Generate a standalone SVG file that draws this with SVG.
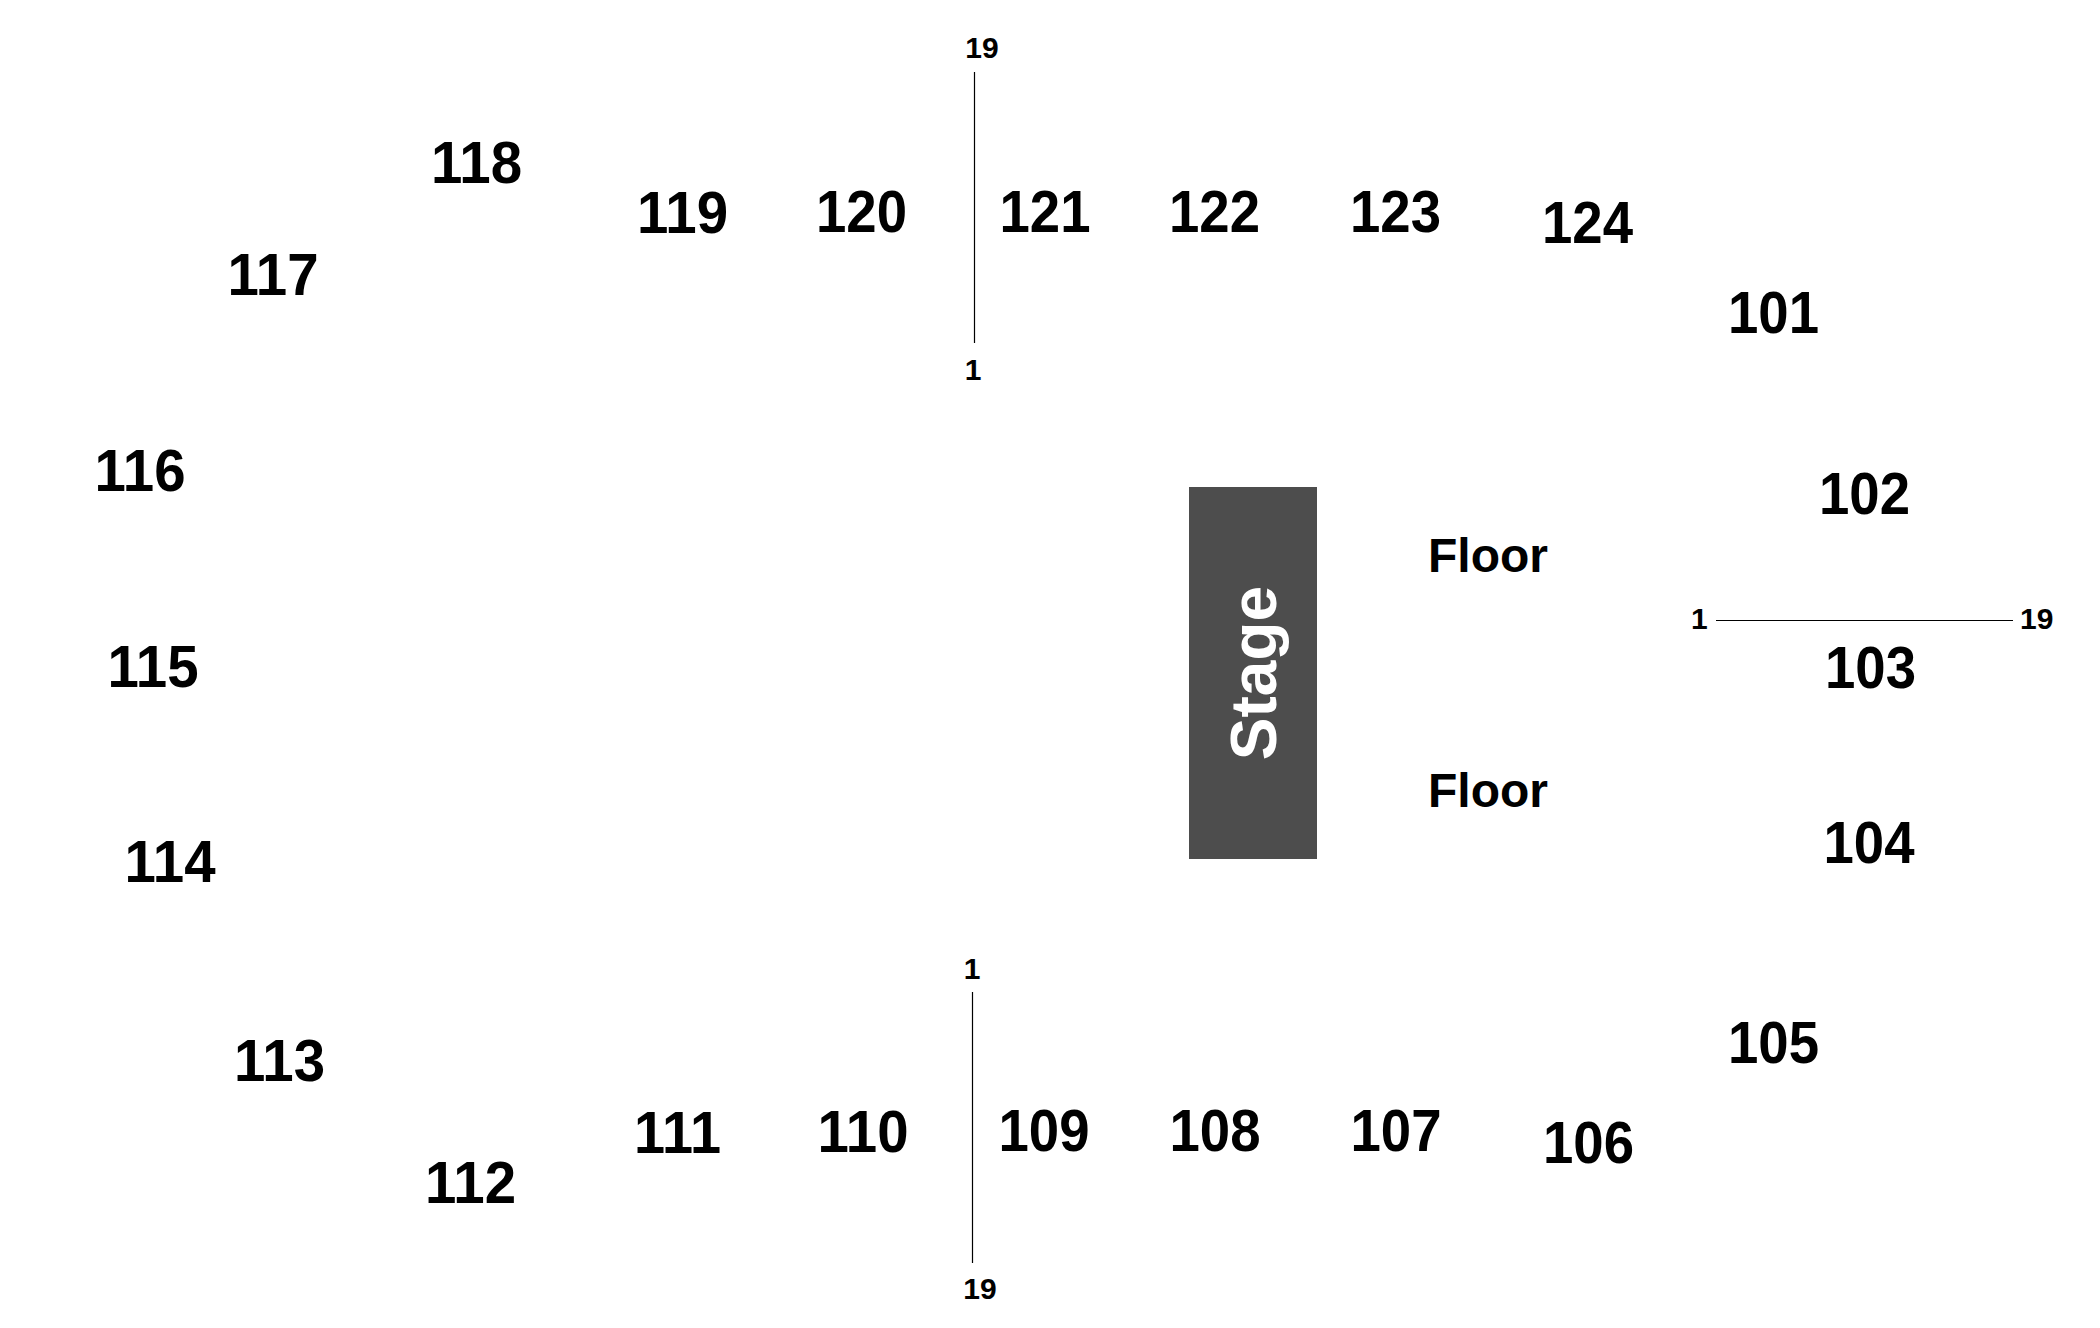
<svg xmlns="http://www.w3.org/2000/svg" width="2100" height="1328" viewBox="0 0 2100 1328">
<style>
text { font-family: "Liberation Sans", Arial, sans-serif; font-weight: bold; fill: #000; }
.sec { font-size: 60px; }
.row { font-size: 30px; }
.floor { font-size: 48px; }
.stage-label { font-size: 64px; fill: #fff; }
.stage-box { fill: #4d4d4d; }
.rowline { stroke: #000; stroke-width: 1.2; fill: none; }
</style>
<rect width="2100" height="1328" fill="#fff"/>
<g id="connectors">
  <line class="rowline" x1="974.5" y1="72" x2="974.5" y2="343"/>
  <line class="rowline" x1="972.5" y1="992" x2="972.5" y2="1263"/>
  <line class="rowline" x1="1716" y1="620.5" x2="2013" y2="620.5"/>
</g>
<g id="row-labels">
  <text class="row" x="982" y="58" text-anchor="middle">19</text>
  <text class="row" x="973" y="380" text-anchor="middle">1</text>
  <text class="row" x="972" y="979" text-anchor="middle">1</text>
  <text class="row" x="980" y="1299" text-anchor="middle">19</text>
  <text class="row" x="1691" y="629">1</text>
  <text class="row" x="2020" y="629">19</text>
</g>
<g id="stage">
  <rect class="stage-box" x="1189" y="487" width="128" height="372"/>
  <text class="stage-label" transform="translate(1276,673) rotate(-90)" text-anchor="middle">Stage</text>
</g>
<g id="floor-1"><text class="floor" x="1428" y="572">Floor</text></g>
<g id="floor-2"><text class="floor" x="1428" y="807">Floor</text></g>
<g id="sec-101"><text class="sec" x="1728" y="333" textLength="91" lengthAdjust="spacingAndGlyphs">101</text></g>
<g id="sec-102"><text class="sec" x="1819" y="514" textLength="91" lengthAdjust="spacingAndGlyphs">102</text></g>
<g id="sec-103"><text class="sec" x="1825" y="688" textLength="91" lengthAdjust="spacingAndGlyphs">103</text></g>
<g id="sec-104"><text class="sec" x="1823.5" y="863" textLength="91" lengthAdjust="spacingAndGlyphs">104</text></g>
<g id="sec-105"><text class="sec" x="1728" y="1063" textLength="91" lengthAdjust="spacingAndGlyphs">105</text></g>
<g id="sec-106"><text class="sec" x="1543" y="1163" textLength="91" lengthAdjust="spacingAndGlyphs">106</text></g>
<g id="sec-107"><text class="sec" x="1350.5" y="1151" textLength="91" lengthAdjust="spacingAndGlyphs">107</text></g>
<g id="sec-108"><text class="sec" x="1169.5" y="1151" textLength="91" lengthAdjust="spacingAndGlyphs">108</text></g>
<g id="sec-109"><text class="sec" x="998.5" y="1151" textLength="91" lengthAdjust="spacingAndGlyphs">109</text></g>
<g id="sec-110"><text class="sec" x="817.5" y="1152" textLength="91" lengthAdjust="spacingAndGlyphs">110</text></g>
<g id="sec-111"><text class="sec" x="634" y="1153" textLength="87" lengthAdjust="spacingAndGlyphs">111</text></g>
<g id="sec-112"><text class="sec" x="425" y="1203" textLength="91" lengthAdjust="spacingAndGlyphs">112</text></g>
<g id="sec-113"><text class="sec" x="234" y="1081" textLength="91" lengthAdjust="spacingAndGlyphs">113</text></g>
<g id="sec-114"><text class="sec" x="124.5" y="882" textLength="91" lengthAdjust="spacingAndGlyphs">114</text></g>
<g id="sec-115"><text class="sec" x="107.5" y="687" textLength="91" lengthAdjust="spacingAndGlyphs">115</text></g>
<g id="sec-116"><text class="sec" x="94.5" y="491" textLength="91" lengthAdjust="spacingAndGlyphs">116</text></g>
<g id="sec-117"><text class="sec" x="227.5" y="295" textLength="91" lengthAdjust="spacingAndGlyphs">117</text></g>
<g id="sec-118"><text class="sec" x="431" y="183" textLength="91" lengthAdjust="spacingAndGlyphs">118</text></g>
<g id="sec-119"><text class="sec" x="637" y="233" textLength="91" lengthAdjust="spacingAndGlyphs">119</text></g>
<g id="sec-120"><text class="sec" x="816" y="232" textLength="91" lengthAdjust="spacingAndGlyphs">120</text></g>
<g id="sec-121"><text class="sec" x="999.5" y="232" textLength="91" lengthAdjust="spacingAndGlyphs">121</text></g>
<g id="sec-122"><text class="sec" x="1169" y="232" textLength="91" lengthAdjust="spacingAndGlyphs">122</text></g>
<g id="sec-123"><text class="sec" x="1350" y="232" textLength="91" lengthAdjust="spacingAndGlyphs">123</text></g>
<g id="sec-124"><text class="sec" x="1542" y="243" textLength="91" lengthAdjust="spacingAndGlyphs">124</text></g>
</svg>
